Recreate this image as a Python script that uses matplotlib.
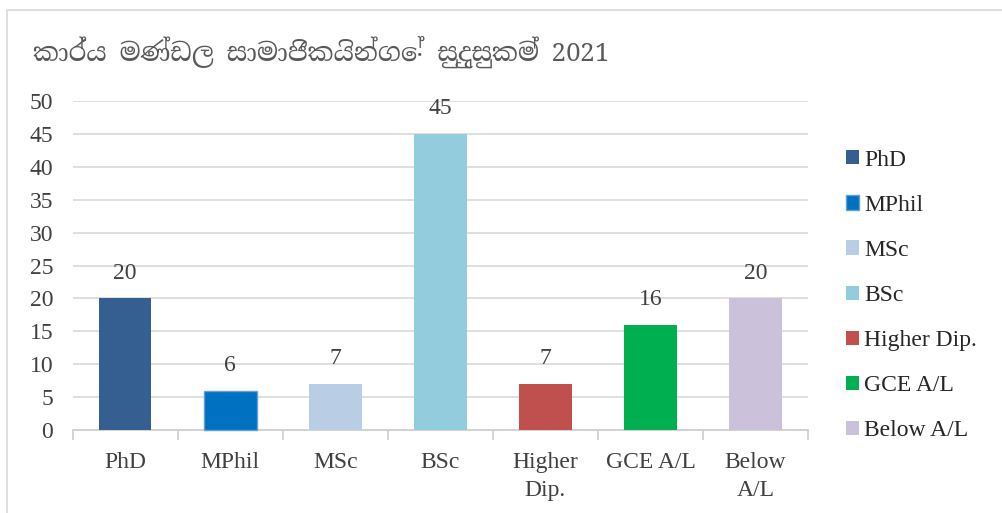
import numpy as np
import matplotlib
matplotlib.use("Agg")
import matplotlib.pyplot as plt
from matplotlib.patches import Rectangle

categories = ["PhD", "MPhil", "MSc", "BSc", "Higher Dip.", "GCE A/L", "Below A/L"]
tick_labels = ["PhD", "MPhil", "MSc", "BSc", "Higher\nDip.", "GCE A/L", "Below\nA/L"]
counts = [20, 6, 7, 45, 7, 16, 20]
colors = ["#365F91", "#0070C0", "#B9CDE5", "#93CDDD", "#C0504D", "#00B050", "#CCC1DA"]
title = "කාර්ය මණ්ඩල සාමාජිකයින්ගේ සුදුසුකම් 2021"

plt.rcParams["font.family"] = ["Liberation Serif", "DejaVu Serif"]

fig = plt.figure(figsize=(10.03, 5.13), dpi=100)
ax = fig.add_axes([0.0725, 0.1618, 0.7331, 0.6413])

# chart frame (light gray border)
fig.patches.append(Rectangle((0.007, -0.05), 1.1, 1.03,
                             transform=fig.transFigure, fill=False,
                             edgecolor="#D9D9D9", linewidth=1.2))

x = np.arange(len(categories))
for i in range(len(categories)):
    edge = "#5FA3DA" if categories[i] == "MPhil" else "none"
    ax.bar(x[i], counts[i], width=0.5, color=colors[i], label=categories[i],
           edgecolor=edge, linewidth=1.0, zorder=3, clip_on=False)
    ax.text(x[i], counts[i] + 2.2, str(counts[i]), ha="center", va="bottom",
            fontsize=17, color="#404040")

ax.set_xlim(-0.5, len(categories) - 0.5)
ax.set_ylim(0, 50)
ax.set_yticks(range(0, 51, 5))
ax.yaxis.grid(True, color="#D9D9D9", linewidth=1.2, zorder=0)
for s in ["top", "right", "left"]:
    ax.spines[s].set_visible(False)
ax.spines["bottom"].set_color("#D0D0D0")
ax.spines["bottom"].set_linewidth(1.3)
ax.tick_params(axis="y", length=0, labelsize=17, labelcolor="#404040", pad=14)

ax.set_xticks(x)
ax.set_xticklabels(tick_labels, fontsize=17, color="#404040", linespacing=1.45)
ax.tick_params(axis="x", length=0, pad=16)
ax.set_xticks(np.arange(-0.5, len(categories)), minor=True)
ax.tick_params(axis="x", which="minor", length=7, color="#D0D0D0", width=1.3)

fig.text(0.033, 0.898, title, fontsize=18.5, fontweight="bold", color="#595959",
         va="center", ha="left",
         family=["Noto Serif Sinhala", "Liberation Serif", "DejaVu Serif"])

leg = fig.legend(loc="center left", bbox_to_anchor=(0.843, 0.424), frameon=False,
                 fontsize=17, handlelength=0.55, handleheight=0.55,
                 handletextpad=0.25, labelspacing=1.02, borderaxespad=0,
                 borderpad=0)
for t in leg.get_texts():
    t.set_color("#262626")

fig.savefig("out.png", dpi=100)
